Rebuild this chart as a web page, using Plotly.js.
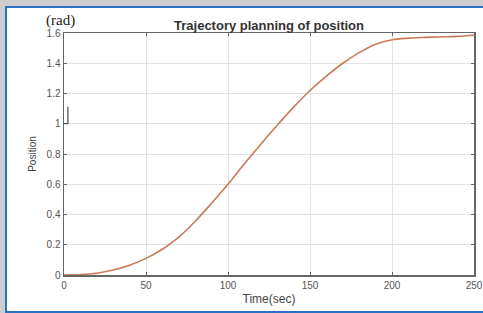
<!DOCTYPE html>
<html>
<head>
<meta charset="utf-8">
<script src="https://cdn.plot.ly/plotly-3.0.1.min.js"></script>
<style>
html,body{margin:0;padding:0;background:#cdcdcd;overflow:hidden;width:483px;height:313px;}
#frame{position:absolute;left:5px;top:6px;width:495px;height:307px;background:#fff;border:2px solid #2a73c4;box-sizing:border-box;}
#chart{position:absolute;left:0;top:0;width:483px;height:313px;}
</style>
</head>
<body>
<div id="frame"></div>
<div id="chart"></div>
<script>
// Time (sec)
var timeSec = [0,10,20,30,40,50,60,70,80,90,100,110,120,130,140,150,160,170,180,190,200,210,220,230,240,250];
// Position (rad)
var position = [0,0.003,0.012,0.033,0.065,0.11,0.17,0.25,0.355,0.475,0.6,0.735,0.865,0.99,1.11,1.22,1.315,1.40,1.47,1.525,1.555,1.566,1.571,1.574,1.578,1.585];
var xTicks = [0,50,100,150,200,250];
var yTicks = [0,0.2,0.4,0.6,0.8,1,1.2,1.4,1.6];
var yTickText = ['0','0.2','0.4','0.6','0.8','1','1.2','1.4','1.6'];

var trace = {
  x: timeSec, y: position, type: 'scatter', mode: 'lines',
  line: {color: '#c97b58', width: 1.6, shape: 'spline', smoothing: 1},
  hoverinfo: 'none'
};

var axisCommon = {
  showline: true, linecolor: '#666', linewidth: 1.5, mirror: 'ticks',
  ticks: 'inside', ticklen: 3, tickcolor: '#666', tickwidth: 1,
  showgrid: true, gridcolor: '#e2e2e2', gridwidth: 1, zeroline: false,
  tickfont: {family: 'Liberation Sans, Arial, sans-serif', size: 10, color: '#555'}
};

var layout = {
  width: 483, height: 313,
  margin: {l: 64, r: 9, t: 33, b: 38},
  paper_bgcolor: 'rgba(0,0,0,0)', plot_bgcolor: '#fff',
  showlegend: false,
  title: {text: 'Trajectory planning of position', x: 0.557, xanchor: 'center', y: 0.92, yanchor: 'middle',
          font: {family: 'Liberation Sans, Arial, sans-serif', size: 13, color: '#333', weight: 'bold'}},
  xaxis: Object.assign({}, axisCommon, {
    range: [0, 250], tickvals: xTicks, ticktext: xTicks.map(String),
    title: {text: 'Time(sec)', standoff: 5, font: {family: 'Liberation Sans, Arial, sans-serif', size: 12, color: '#444'}}
  }),
  yaxis: Object.assign({}, axisCommon, {
    range: [0, 1.6], tickvals: yTicks, ticktext: yTickText,
    title: {text: 'Position', standoff: 8, font: {family: 'Liberation Sans, Arial, sans-serif', size: 10, color: '#444'}}
  }),
  annotations: [{
    text: '(rad)', xref: 'paper', yref: 'paper', x: -0.008, y: 1.05, xanchor: 'center', yanchor: 'middle',
    showarrow: false, font: {family: 'Liberation Serif, Times New Roman, serif', size: 15, color: '#222'}
  }],
  shapes: [{
    type: 'path', xref: 'paper', yref: 'paper',
    path: 'M 0.0095 0.695 L 0.0095 0.625 L 0.001 0.625',
    line: {color: '#444', width: 1.2}
  }]
};

Plotly.newPlot('chart', [trace], layout, {displayModeBar: false, staticPlot: true});
</script>
</body>
</html>
